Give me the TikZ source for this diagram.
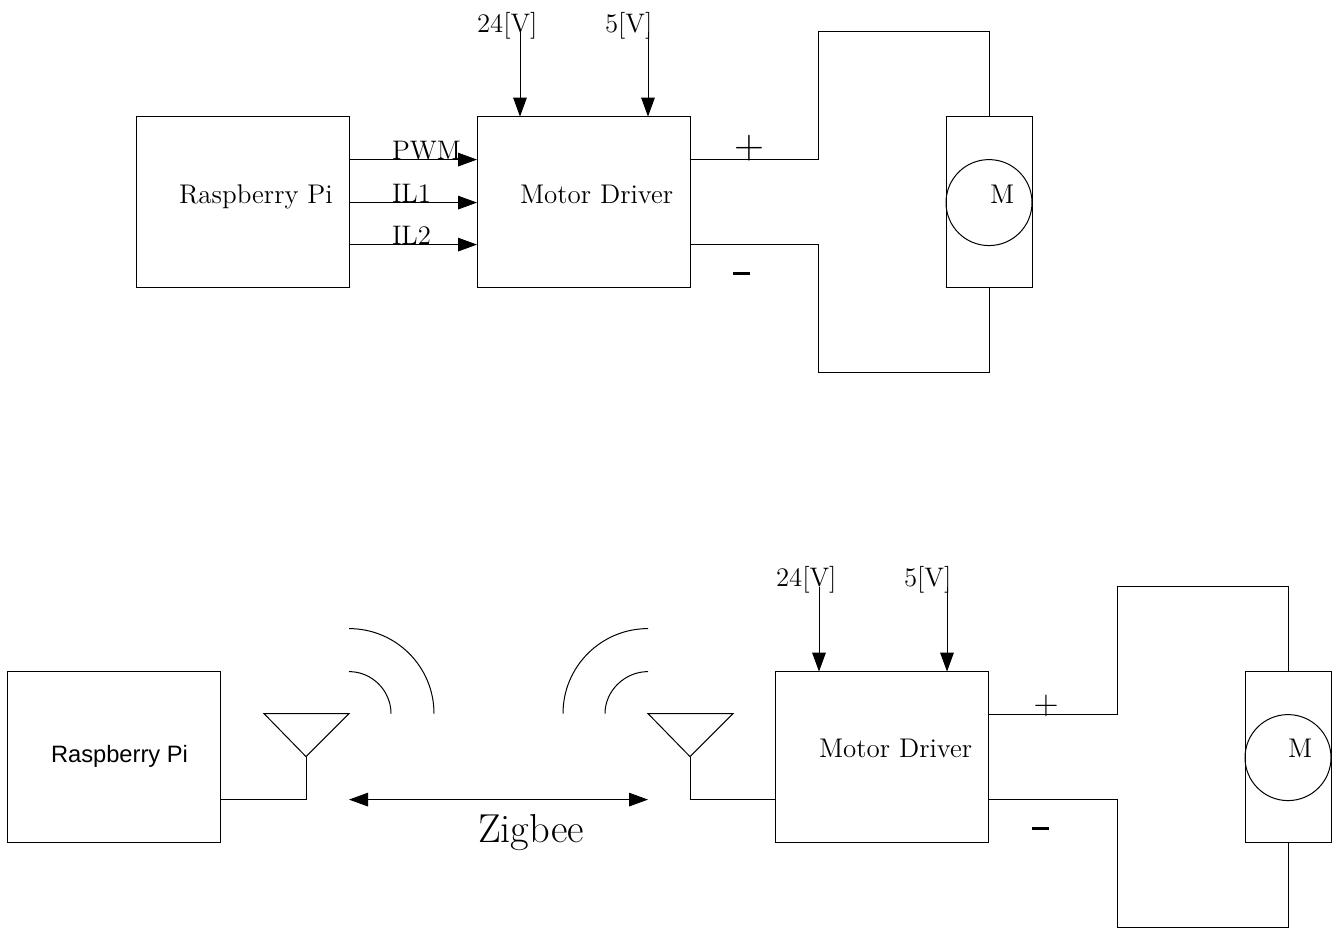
\documentclass[tikz,border=0pt]{standalone}
\usepackage{fontspec}
\newfontfamily\rpsans{Liberation Sans}
\usetikzlibrary{arrows.meta}
\tikzset{
  box/.style={draw,rectangle,inner sep=0pt,outer sep=0pt,minimum width=#1},
  box/.default=106.5pt,
  ctl/.style={box,minimum height=85.5pt},
  mot/.style={draw,rectangle,inner sep=0pt,outer sep=0pt,minimum width=43pt,minimum height=85.5pt},
  rotor/.style={draw,circle,inner sep=0pt,outer sep=0pt,minimum size=43pt},
  wire/.style={line width=0.5pt},
  arr/.style={wire,-{Triangle[length=9.5pt,width=6.8pt]}},
  darr/.style={wire,{Triangle[length=9.5pt,width=6.8pt]}-{Triangle[length=9.5pt,width=6.8pt]}},
  txt/.style={anchor=base west,inner sep=0pt,outer sep=0pt,font=\fontsize{13.5}{16}\selectfont},
  small/.style={anchor=base west,inner sep=0pt,outer sep=0pt,font=\fontsize{13.4}{15}\selectfont},
  bigtxt/.style={anchor=base west,inner sep=0pt,outer sep=0pt,font=\fontsize{20.2}{24}\selectfont},
  sign/.style={inner sep=0pt,outer sep=0pt},
}
\begin{document}
\begin{tikzpicture}[x=0.5pt,y=-0.5pt,line width=0.5pt]
\useasboundingbox (0,-0.6) rectangle (1338,928.4);
% top row
\node[ctl] (rp1) at (242.5,201.5) {};
\node[ctl] (md1) at (583.5,201.5) {};
\node[mot] (m1) at (989,201.5) {};
\node[rotor] (r1) at (989,202) {};
\coordinate (v241) at (520,31);
\coordinate (v51) at (648,31);
\coordinate (a1) at (818,159);
\coordinate (a2) at (818,31);
\coordinate (a3) at (989,31);
\coordinate (b1) at (818,244);
\coordinate (b2) at (818,372);
\coordinate (b3) at (989,372);
\draw[arr] (rp1.east |- 0,159) -- (md1.west |- 0,159);
\draw[arr] (rp1.east |- 0,202) -- (md1.west |- 0,202);
\draw[arr] (rp1.east |- 0,244) -- (md1.west |- 0,244);
\draw[arr] (v241) -- (v241 |- md1.north);
\draw[arr] (v51) -- (v51 |- md1.north);
\draw[wire] (md1.east |- a1) -- (a1) -- (a2) -- (a3) -- (m1.north);
\draw[wire] (md1.east |- b1) -- (b1) -- (b2) -- (b3) -- (m1.south);
\node[txt] (t1) at (179,203) {Raspberry Pi};
\node[txt] (t2) at (520,203) {Motor Driver};
\node[txt] (t3) at (990,203) {M};
\node[small] (t4) at (477,32) {24[V]};
\node[small] (t5) at (605,32) {5[V]};
\node[small] (t6) at (392,159) {PWM};
\node[small] (t7) at (392,202) {IL1};
\node[small] (t8) at (392,244) {IL2};
\node[sign,font=\fontsize{22}{24}\selectfont] (p1) at (749,148) {$+$};
\node[sign] (n1) at (741.5,273) {\rule{8.5pt}{1.6pt}};
% bottom row
\node[ctl] (rp2) at (114,756.5) {};
\node[ctl] (md2) at (882,756.5) {};
\node[mot] (m2) at (1288,756.5) {};
\node[rotor] (r2) at (1288,757) {};
\coordinate (v242) at (819,586);
\coordinate (v52) at (947,586);
\coordinate (c1) at (1117,714);
\coordinate (c2) at (1117,586);
\coordinate (c3) at (1288,586);
\coordinate (d1) at (1117,799);
\coordinate (d2) at (1117,927);
\coordinate (d3) at (1288,927);
\draw[arr] (v242) -- (v242 |- md2.north);
\draw[arr] (v52) -- (v52 |- md2.north);
\draw[wire] (md2.east |- c1) -- (c1) -- (c2) -- (c3) -- (m2.north);
\draw[wire] (md2.east |- d1) -- (d1) -- (d2) -- (d3) -- (m2.south);
% antennas
\coordinate (la) at (264,713);
\coordinate (lb) at (349,713);
\coordinate (lc) at (306,756);
\coordinate (ld) at (306,799);
\coordinate (ra) at (648,713);
\coordinate (rb) at (733,713);
\coordinate (rc) at (690,756);
\coordinate (rd) at (690,799);
\draw[wire,line join=miter] (la) -- (lb) -- (lc) -- cycle;
\draw[wire,line join=miter] (ra) -- (rb) -- (rc) -- cycle;
\draw[wire] (lc) -- (ld) -- (rp2.east |- ld);
\draw[wire] (rc) -- (rd) -- (md2.west |- rd);
% waves
\coordinate (w1) at (349,628);
\coordinate (w2) at (434,713);
\coordinate (w3) at (349,671);
\coordinate (w4) at (391,713);
\coordinate (w5) at (648,628);
\coordinate (w6) at (563,713);
\coordinate (w7) at (648,671);
\coordinate (w8) at (605,713);
\draw[wire] (w1) .. controls (396,628) and (434,666) .. (w2);
\draw[wire] (w3) .. controls (372,671) and (391,690) .. (w4);
\draw[wire] (w5) .. controls (601,628) and (563,666) .. (w6);
\draw[wire] (w7) .. controls (625,671) and (605,690) .. (w8);
\coordinate (z1) at (349,799);
\coordinate (z2) at (648,799);
\draw[darr] (z1) -- (z2);
\node[anchor=base west,inner sep=0pt,outer sep=0pt,font=\rpsans\fontsize{11.85}{14}\selectfont] (t9) at (51,762) {Raspberry Pi};
\node[txt] (t10) at (819,757) {Motor Driver};
\node[txt] (t11) at (1288,757) {M};
\node[small] (t12) at (776,586) {24[V]};
\node[small] (t13) at (904,586) {5[V]};
\node[bigtxt] (t14) at (478,842) {Zigbee};
\node[sign,font=\fontsize{18}{20}\selectfont] (p2) at (1046,705) {$+$};
\node[sign] (n2) at (1040.5,828) {\rule{8.5pt}{1.6pt}};
\end{tikzpicture}
\end{document}
